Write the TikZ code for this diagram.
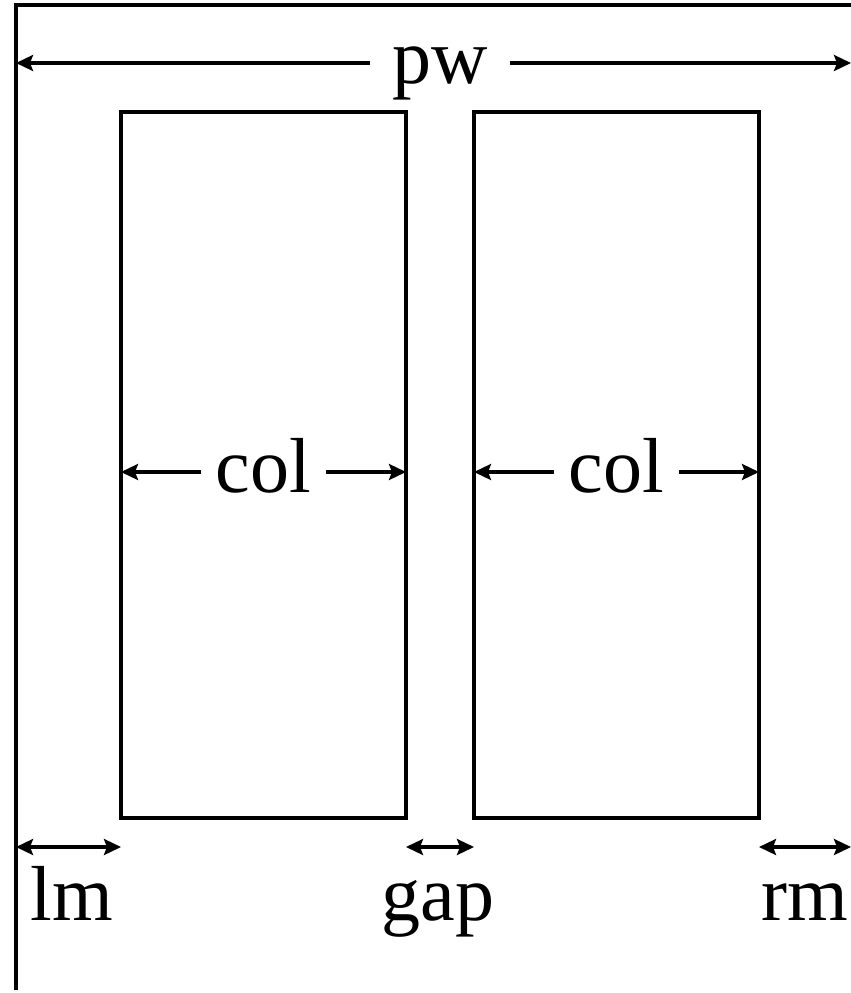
\documentclass[tikz,border=0pt]{standalone}
\usepackage{fontspec}
\setmainfont{Liberation Serif}
\usetikzlibrary{arrows.meta,positioning,calc}

\begin{document}
\begin{tikzpicture}[
                    x=1pt, y=-1pt, line width=3.2pt,
                    every node/.style={font=\fontsize{78}{94}\selectfont},
                    colbox/.style={draw, rectangle, outer sep=0pt, minimum width=285pt, minimum height=706pt},
                    dimlab/.style={anchor=base, inner xsep=13pt, inner ysep=0pt},
                    dimone/.style={-{Stealth[length=17pt, width=16pt, inset=3pt]}},
                    dimtwo/.style={{Stealth[length=17pt, width=16pt, inset=3pt]}-{Stealth[length=17pt, width=16pt, inset=3pt]}}
                ]
                    \useasboundingbox (0,0) rectangle (851,993);
                    % page edge
                    \draw (851,5) -- (16,5) -- (16,990);

                    % page width
                    \coordinate (pwL) at (16,63);
                    \coordinate (pwR) at (851,63);
                    \node (pw) [dimlab, inner xsep=21pt] at (440,83) {pw};
                    \draw[dimone] (pw.west |- pwL) -- (pwL);
                    \draw[dimone] (pw.east |- pwR) -- (pwR);

                    % the two columns
                    \node[colbox] (colA) at (263.5,465) {};
                    \node[colbox] (colB) at (616.5,465) {};
                    \coordinate (midA) at (263.5,472);
                    \coordinate (midB) at (616.5,472);
                    \node (labA) [dimlab] at ($(midA)+(0,20)$) {col};
                    \node (labB) [dimlab] at ($(midB)+(0,20)$) {col};
                    \draw[dimone] (labA.west |- midA) -- (midA -| colA.west);
                    \draw[dimone] (labA.east |- midA) -- (midA -| colA.east);
                    \draw[dimone] (labB.west |- midB) -- (midB -| colB.west);
                    \draw[dimone] (labB.east |- midB) -- (midB -| colB.east);

                    % margins and gap
                    \coordinate (lmL) at (16,847);
                    \coordinate (rmR) at (851,847);
                    \draw[dimtwo] (lmL) -- (lmL -| colA.west);
                    \draw[dimtwo] (lmL -| colA.east) -- (lmL -| colB.west);
                    \draw[dimtwo] (rmR -| colB.east) -- (rmR);
                    \node (lm) [anchor=base, inner sep=0pt] at (72,920) {lm};
                    \node (gap) [anchor=base, inner sep=0pt] at (438,920) {gap};
                    \node (rm) [anchor=base, inner sep=0pt] at (805,920) {rm};
                \end{tikzpicture}
\end{document}
